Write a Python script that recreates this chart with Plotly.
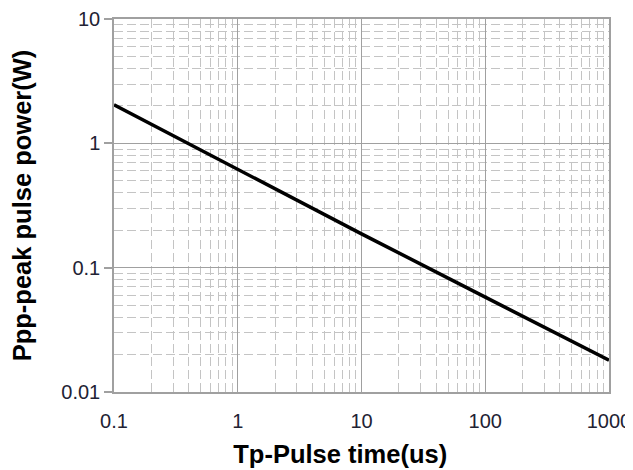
import plotly.graph_objects as go

pulse_time_us = [0.1, 1, 10, 100, 1000]
peak_power_w = [2.04, 0.62, 0.187, 0.058, 0.018]

x_ticks = [0.1, 1, 10, 100, 1000]
x_tick_labels = ["0.1", "1", "10", "100", "1000"]
y_ticks = [0.01, 0.1, 1, 10]
y_tick_labels = ["0.01", "0.1", "1", "10"]

font = "Arial, Liberation Sans, sans-serif"

fig = go.Figure()
fig.add_trace(go.Scatter(x=pulse_time_us, y=peak_power_w, mode="lines",
                         line=dict(color="black", width=3.5), showlegend=False))

axis_common = dict(
    type="log",
    automargin=False,
    showgrid=True, gridcolor="#a0a0a0", gridwidth=1.2,
    showline=True, linecolor="#a0a0a0", linewidth=1.5,
    tickfont=dict(family=font, size=20, color="#222233"),
    zeroline=False,
    minor=dict(showgrid=True, gridcolor="#c4c4c4", griddash="9px,4px", gridwidth=1, dtick="D1"),
)

fig.update_xaxes(**axis_common, range=[-1, 3], tickvals=x_ticks, ticktext=x_tick_labels,
                 ticks="", ticklabelstandoff=10, mirror=True,
                 title=dict(text="<b>Tp-Pulse time(us)</b>" + "&nbsp;" * 6,
                            font=dict(family=font, size=25.5, color="black"), standoff=14))
fig.update_yaxes(**axis_common, range=[-2, 1], tickvals=y_ticks, ticktext=y_tick_labels,
                 ticks="outside", ticklen=8, tickcolor="#a0a0a0", tickwidth=1.5, mirror=True,
                 title=dict(text="<b>Ppp-peak pulse power(W)</b>", font=dict(family=font, size=25.5, color="black"), standoff=34))

fig.update_layout(
    width=625, height=462,
    margin=dict(l=106, r=24, t=11, b=78),
    plot_bgcolor="white", paper_bgcolor="white",
)

fig.write_html("out.html")
